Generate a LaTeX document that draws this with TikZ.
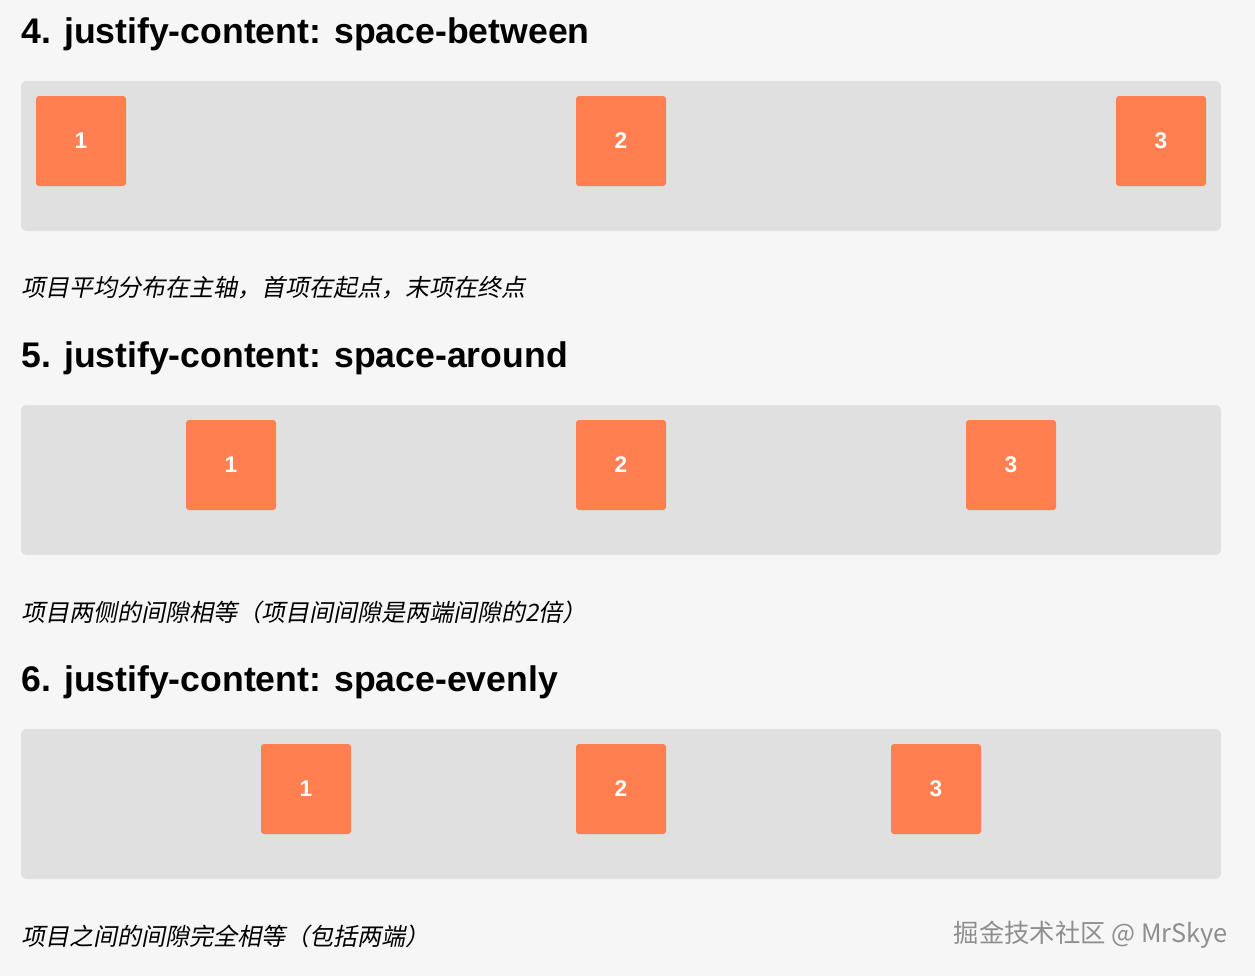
\documentclass[tikz,border=0pt]{standalone}
\usepackage{fontspec}
\setmainfont{Liberation Sans}
\newfontfamily\cjkit[FakeSlant=0.2]{Noto Sans CJK SC}
\newfontfamily\cjk{Noto Sans CJK SC}
\definecolor{pagebg}{HTML}{F6F6F6}
\definecolor{boxbg}{HTML}{E0E0E0}
\definecolor{itemcoral}{HTML}{FF7F50}
\definecolor{markgray}{HTML}{8E8E8E}
\tikzset{
  heading/.style={anchor=base west,inner sep=0pt,font=\fontsize{26.7}{32}\selectfont\bfseries},
  caption/.style={anchor=west,inner sep=0pt,font=\fontsize{18}{22}\selectfont\cjkit},
  container/.style={rectangle,rounded corners=3.75pt,fill=boxbg,minimum width=900pt,minimum height=112.5pt,inner sep=0pt},
  flexitem/.style={rectangle,rounded corners=2.25pt,fill=itemcoral,minimum size=67.5pt,inner sep=0pt,text=white,font=\fontsize{17}{20}\selectfont\bfseries},
}
\begin{document}
\begin{tikzpicture}[x=0.75pt,y=-0.75pt]
      \fill[pagebg] (0,0) rectangle (1255,976);
      \useasboundingbox (0,0) rectangle (1255,976);
      % space-between
      \node[heading] (h4) at (21,43) {4. justify-content: space-between};
      \node[container] (c4) at (621,156) {};
      \node[flexitem] (b41) at (81,141) {1};
      \node[flexitem] (b42) at (621,141) {2};
      \node[flexitem] (b43) at (1161,141) {3};
      \node[caption] (t4) at (21,288) {项目平均分布在主轴，首项在起点，末项在终点};
      % space-around
      \node[heading] (h5) at (21,367) {5. justify-content: space-around};
      \node[container] (c5) at (621,480) {};
      \node[flexitem] (b51) at (231,465) {1};
      \node[flexitem] (b52) at (621,465) {2};
      \node[flexitem] (b53) at (1011,465) {3};
      \node[caption] (t5) at (21,612) {项目两侧的间隙相等（项目间间隙是两端间隙的2倍）};
      % space-evenly
      \node[heading] (h6) at (21,691) {6. justify-content: space-evenly};
      \node[container] (c6) at (621,804) {};
      \node[flexitem] (b61) at (306,789) {1};
      \node[flexitem] (b62) at (621,789) {2};
      \node[flexitem] (b63) at (936,789) {3};
      \node[caption] (t6) at (21,936) {项目之间的间隙完全相等（包括两端）};
      \node[anchor=east,inner sep=0pt,text=markgray,font=\fontsize{19}{22}\selectfont\cjk] (mark) at (1228,935) {掘金技术社区 @ MrSkye};
    \end{tikzpicture}
\end{document}
